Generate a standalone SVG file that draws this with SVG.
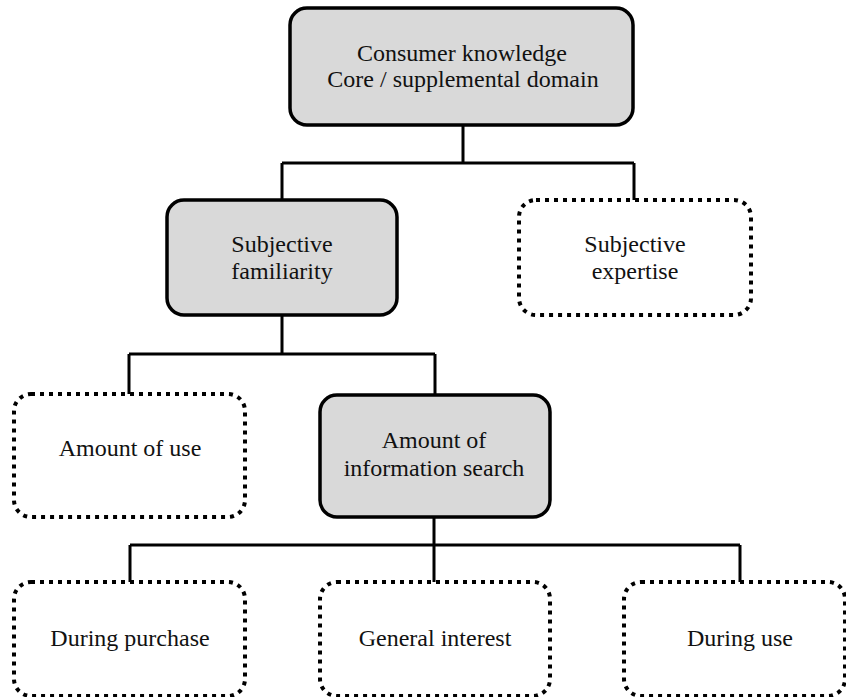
<svg xmlns="http://www.w3.org/2000/svg" width="846" height="697" viewBox="0 0 846 697">
  <style>
    .solid { fill: #d9d9d9; stroke: #000; stroke-width: 3.5; }
    .dotted { fill: none; stroke: #000; stroke-width: 4; stroke-dasharray: 4 5; }
    .label { font-family: "Liberation Serif", "Times New Roman", serif; font-size: 24px; fill: #111; text-anchor: middle; }
    .wire { fill: none; stroke: #000; stroke-width: 3; }
  </style>
  <rect width="846" height="697" fill="#fff"/>

  <g id="connectors">
    <path class="wire" d="M463 125 V163 M282 163 H634 M282 163 V200 M634 163 V200"/>
    <path class="wire" d="M282 315 V354 M129 354 H435 M129 354 V394 M435 354 V395"/>
    <path class="wire" d="M434 517 V545 M130 545 H740 M130 545 V582 M434 545 V582 M740 545 V582"/>
  </g>

  <g id="consumer-knowledge">
    <rect class="solid" x="290" y="8" width="343" height="117" rx="17"/>
    <text class="label" x="462" y="61">Consumer knowledge</text>
    <text class="label" x="463" y="87">Core / supplemental domain</text>
  </g>

  <g id="subjective-familiarity">
    <rect class="solid" x="167" y="200" width="230" height="115" rx="17"/>
    <text class="label" x="282" y="252">Subjective</text>
    <text class="label" x="282" y="279">familiarity</text>
  </g>

  <g id="subjective-expertise">
    <rect class="dotted" x="519" y="200" width="232" height="115" rx="17"/>
    <text class="label" x="635" y="252">Subjective</text>
    <text class="label" x="635" y="279">expertise</text>
  </g>

  <g id="amount-of-use">
    <rect class="dotted" x="14" y="394" width="231" height="123" rx="17"/>
    <text class="label" x="130" y="456">Amount of use</text>
  </g>

  <g id="amount-of-information-search">
    <rect class="solid" x="320" y="395" width="230" height="122" rx="17"/>
    <text class="label" x="434" y="448">Amount of</text>
    <text class="label" x="434" y="476">information search</text>
  </g>

  <g id="during-purchase">
    <rect class="dotted" x="14" y="582" width="231" height="114" rx="17"/>
    <text class="label" x="130" y="646">During purchase</text>
  </g>

  <g id="general-interest">
    <rect class="dotted" x="320" y="582" width="230" height="114" rx="17"/>
    <text class="label" x="435" y="646">General interest</text>
  </g>

  <g id="during-use">
    <rect class="dotted" x="624" y="582" width="221" height="114" rx="17"/>
    <text class="label" x="740" y="646">During use</text>
  </g>
</svg>
